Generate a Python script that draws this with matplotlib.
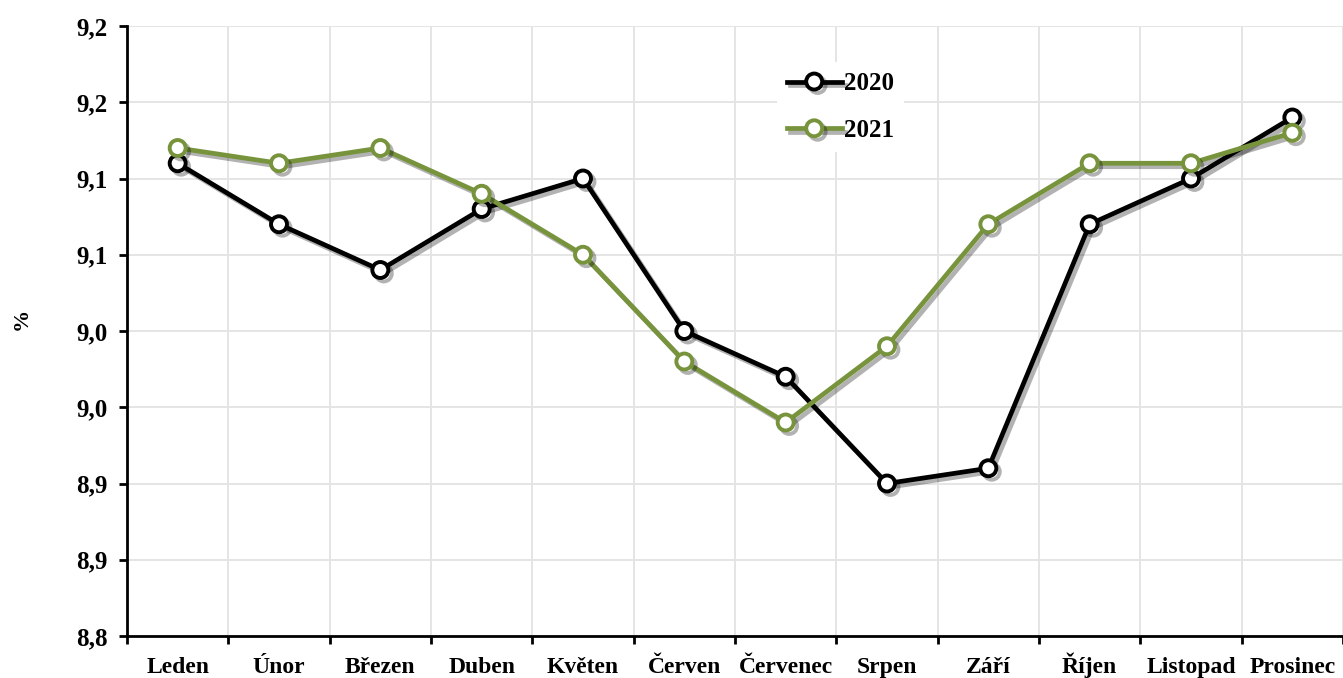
import matplotlib
matplotlib.use("Agg")
import matplotlib.pyplot as plt
import matplotlib.patheffects as pe
import numpy as np
from matplotlib.ticker import FixedLocator, FuncFormatter

months = ["Leden", "Únor", "Březen", "Duben", "Květen", "Červen", "Červenec",
          "Srpen", "Září", "Říjen", "Listopad", "Prosinec"]
v2020 = [9.11, 9.07, 9.04, 9.08, 9.10, 9.00, 8.97, 8.90, 8.91, 9.07, 9.10, 9.14]
v2021 = [9.12, 9.11, 9.12, 9.09, 9.05, 8.98, 8.94, 8.99, 9.07, 9.11, 9.11, 9.13]
yticks = [8.80, 8.85, 8.90, 8.95, 9.00, 9.05, 9.10, 9.15, 9.20]

plt.rcParams['font.family'] = ['Liberation Serif', 'DejaVu Serif']
plt.rcParams['font.weight'] = 'bold'

fig = plt.figure(figsize=(13.43, 6.78), dpi=100)
ax = fig.add_axes([127/1343, 1 - 636/678, (1343-127)/1343, (636-26)/678])

x = np.arange(len(months))
shadow = [pe.SimpleLineShadow(offset=(2.5, -2.5), alpha=0.3, shadow_color='black'), pe.Normal()]
ax.plot(x, v2020, color='black', lw=3.4, marker='o', ms=11.5, mfc='white', mec='black',
        mew=2.8, label='2020', zorder=3, path_effects=shadow)
ax.plot(x, v2021, color='#77933C', lw=3.4, marker='o', ms=11.5, mfc='white', mec='#77933C',
        mew=2.8, label='2021', zorder=4, path_effects=shadow)

ax.set_xlim(-0.5, 11.5)
ax.set_ylim(8.80, 9.20)
ax.set_xticks(x)
ax.set_xticklabels(months, fontsize=17, fontweight='bold')
for lab in ax.get_xticklabels():
    lab.set_verticalalignment('baseline')
ax.xaxis.set_minor_locator(FixedLocator(np.arange(-0.5, 12, 1.0)))
ax.tick_params(axis='x', which='major', length=0, pad=26.5)
ax.tick_params(axis='x', which='minor', length=6, width=2, direction='out')
ax.set_yticks(yticks)
ax.yaxis.set_major_formatter(FuncFormatter(
    lambda v, p: f"{np.floor(v * 10 + 0.5 + 1e-9) / 10:.1f}".replace('.', ',')))
ax.tick_params(axis='y', length=6, width=2, direction='out', labelsize=18, pad=8)
for lab in ax.get_yticklabels():
    lab.set_fontweight('bold')

ax.grid(True, axis='y', which='major', color='#e3e3e3', lw=1.3)
ax.grid(True, axis='x', which='minor', color='#e3e3e3', lw=1.3)
ax.grid(False, axis='x', which='major')
ax.set_axisbelow(True)

for s in ['top', 'right']:
    ax.spines[s].set_visible(False)
for s in ['left', 'bottom']:
    ax.spines[s].set_linewidth(2)
    ax.spines[s].set_color('black')

ax.set_ylabel('%', fontsize=16, fontweight='bold')
ax.yaxis.set_label_coords(-0.078, 0.52)

leg = ax.legend(loc='upper left', bbox_to_anchor=(0.524, 0.961), frameon=True, fontsize=18,
                handlelength=2.2, labelspacing=0.95, borderpad=0.4, handletextpad=0.1)
leg.get_frame().set_edgecolor('none')
leg.get_frame().set_facecolor('white')
leg.get_frame().set_alpha(1)
for t in leg.get_texts():
    t.set_fontweight('bold')

fig.savefig('out.png', dpi=100)
